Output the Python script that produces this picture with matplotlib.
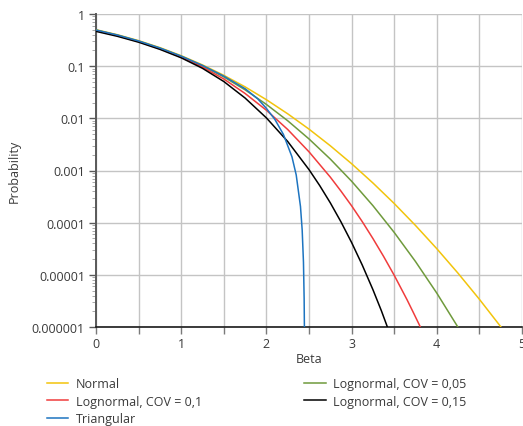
import matplotlib
matplotlib.use("Agg")
import matplotlib.pyplot as plt
from matplotlib.ticker import FixedLocator, FixedFormatter, MultipleLocator, NullFormatter, LogLocator

plt.rcParams['font.family'] = ['Open Sans', 'DejaVu Sans']

# ---- data ----
beta_normal = [0, 0.25, 0.5, 0.75, 1.0, 1.25, 1.5, 1.75, 2.0, 2.25, 2.5, 2.75, 3.0,
               3.25, 3.5, 3.75, 4.0, 4.25, 4.5, 4.753]
p_normal = [0.5, 0.401, 0.3085, 0.2266, 0.1587, 0.1056, 0.0668, 0.0401, 0.02275, 0.01222,
            0.00621, 0.00298, 0.00135, 0.000577, 0.000233, 8.84e-5, 3.17e-5, 1.07e-5,
            3.40e-6, 1.0e-6]

beta_ln05 = [0, 0.25, 0.5, 0.75, 1.0, 1.25, 1.5, 1.75, 2.0, 2.25, 2.5, 2.75, 3.0,
             3.25, 3.5, 3.75, 4.0, 4.247]
p_ln05 = [0.49, 0.3928, 0.3014, 0.2209, 0.1540, 0.1011, 0.0622, 0.03516, 0.01848, 0.008989,
          0.004028, 0.001657, 6.23e-4, 2.121e-4, 6.50e-5, 1.798e-5, 4.46e-6, 1.0e-6]

beta_ln10 = [0, 0.25, 0.5, 0.75, 1.0, 1.25, 1.5, 1.75, 2.0, 2.25, 2.5, 2.75, 2.875, 3.0,
             3.125, 3.25, 3.375, 3.5, 3.65, 3.725, 3.807]
p_ln10 = [0.48, 0.385, 0.2946, 0.2154, 0.1491, 0.0959, 0.0568, 0.02995, 0.01429, 0.006111,
          0.002283, 7.47e-4, 4.03e-4, 2.106e-4, 1.047e-4, 4.97e-5, 2.26e-5, 9.81e-6,
          3.35e-6, 1.89e-6, 1.0e-6]

beta_ln15 = [0, 0.25, 0.5, 0.75, 1.0, 1.25, 1.5, 1.75, 2.0, 2.25, 2.5, 2.625, 2.75,
             2.875, 3.0, 3.125, 3.25, 3.35, 3.42]
p_ln15 = [0.4645, 0.374, 0.288, 0.210, 0.1447, 0.0909, 0.0508, 0.0245, 0.0102, 0.0036,
          0.00104, 5.16e-4, 2.40e-4, 1.038e-4, 4.17e-5, 1.54e-5, 5.21e-6, 2.04e-6, 1.0e-6]

beta_tri = [0, 0.25, 0.5, 0.75, 1.0, 1.25, 1.5, 1.75, 1.9, 2.0, 2.1, 2.2, 2.3, 2.35,
            2.4, 2.42, 2.435, 2.443, 2.446]
p_tri = [0.494, 0.396, 0.304, 0.223, 0.1558, 0.1032, 0.0645, 0.037, 0.0235, 0.0155,
         0.0095, 0.0049, 0.00183, 8.2e-4, 2.04e-4, 7.2e-5, 1.75e-5, 3.5e-6, 1.0e-6]

labels = ["Normal", "Lognormal, COV = 0,1", "Triangular",
          "Lognormal, COV = 0,05", "Lognormal, COV = 0,15"]
y_ticks = [1e-6, 1e-5, 1e-4, 1e-3, 1e-2, 1e-1, 1]
y_ticklabels = ["0.000001", "0.00001", "0.0001", "0.001", "0.01", "0.1", "1"]
x_ticks = [0, 1, 2, 3, 4, 5]
x_ticklabels = ["0", "1", "2", "3", "4", "5"]

# ---- figure ----
fig = plt.figure(figsize=(5.23, 4.27), dpi=100)
ax = fig.add_axes([96 / 523, 1 - 328 / 427, (522 - 96) / 523, (328 - 15) / 427])

c_yellow = '#F2C40C'
c_red = '#F03C3C'
c_blue = '#1D74C0'
c_green = '#6F9A3C'
c_black = '#000000'

lw = 1.1
l1, = ax.plot(beta_normal, p_normal, color=c_yellow, lw=lw, zorder=3)
l4, = ax.plot(beta_ln05, p_ln05, color=c_green, lw=lw, zorder=3)
l2, = ax.plot(beta_ln10, p_ln10, color=c_red, lw=lw, zorder=3)
l5, = ax.plot(beta_ln15, p_ln15, color=c_black, lw=lw, zorder=3)
l3, = ax.plot(beta_tri, p_tri, color=c_blue, lw=lw, zorder=4)

ax.set_yscale('log')
ax.set_ylim(1e-6, 1)
ax.set_xlim(0, 5)

ax.yaxis.set_major_locator(FixedLocator(y_ticks))
ax.yaxis.set_major_formatter(FixedFormatter(y_ticklabels))
ax.yaxis.set_minor_locator(LogLocator(base=10, subs=range(2, 10), numticks=20))
ax.yaxis.set_minor_formatter(NullFormatter())
ax.xaxis.set_major_locator(FixedLocator(x_ticks))
ax.xaxis.set_major_formatter(FixedFormatter(x_ticklabels))
ax.xaxis.set_minor_locator(MultipleLocator(0.5))

ax.grid(True, which='major', axis='both', color='#C4C4C4', lw=1.0, zorder=0)
ax.grid(True, which='minor', axis='x', color='#C4C4C4', lw=1.0, zorder=0)

for s in ['top', 'right']:
    ax.spines[s].set_visible(False)
ax.spines['left'].set_color('#595959')
ax.spines['left'].set_linewidth(1.4)
ax.spines['bottom'].set_color('#1a1a1a')
ax.spines['bottom'].set_linewidth(1.2)

ax.tick_params(axis='y', which='major', length=5, width=1, color='#595959',
               labelsize=9, labelcolor='#3a3a3a', pad=3)
ax.tick_params(axis='y', which='minor', length=3, width=0.6, color='#9a9a9a')
ax.tick_params(axis='x', which='both', length=5, width=1, color='#7a7a7a',
               labelsize=9, labelcolor='#3a3a3a', pad=2)

ax.set_xlabel("Beta", fontsize=9, color='#3a3a3a', labelpad=2)
ax.set_ylabel("Probability", fontsize=9, color='#3a3a3a', labelpad=8)

fig.legend([l1, l2, l3, l4, l5], labels, ncol=2, loc='upper left',
           bbox_to_anchor=(42 / 523, 1 - 373 / 427), frameon=False, fontsize=9,
           handlelength=1.7, handletextpad=0.6, columnspacing=8.2,
           labelspacing=0.38, borderaxespad=0, labelcolor='#3a3a3a')

fig.savefig("out.png", dpi=100)
